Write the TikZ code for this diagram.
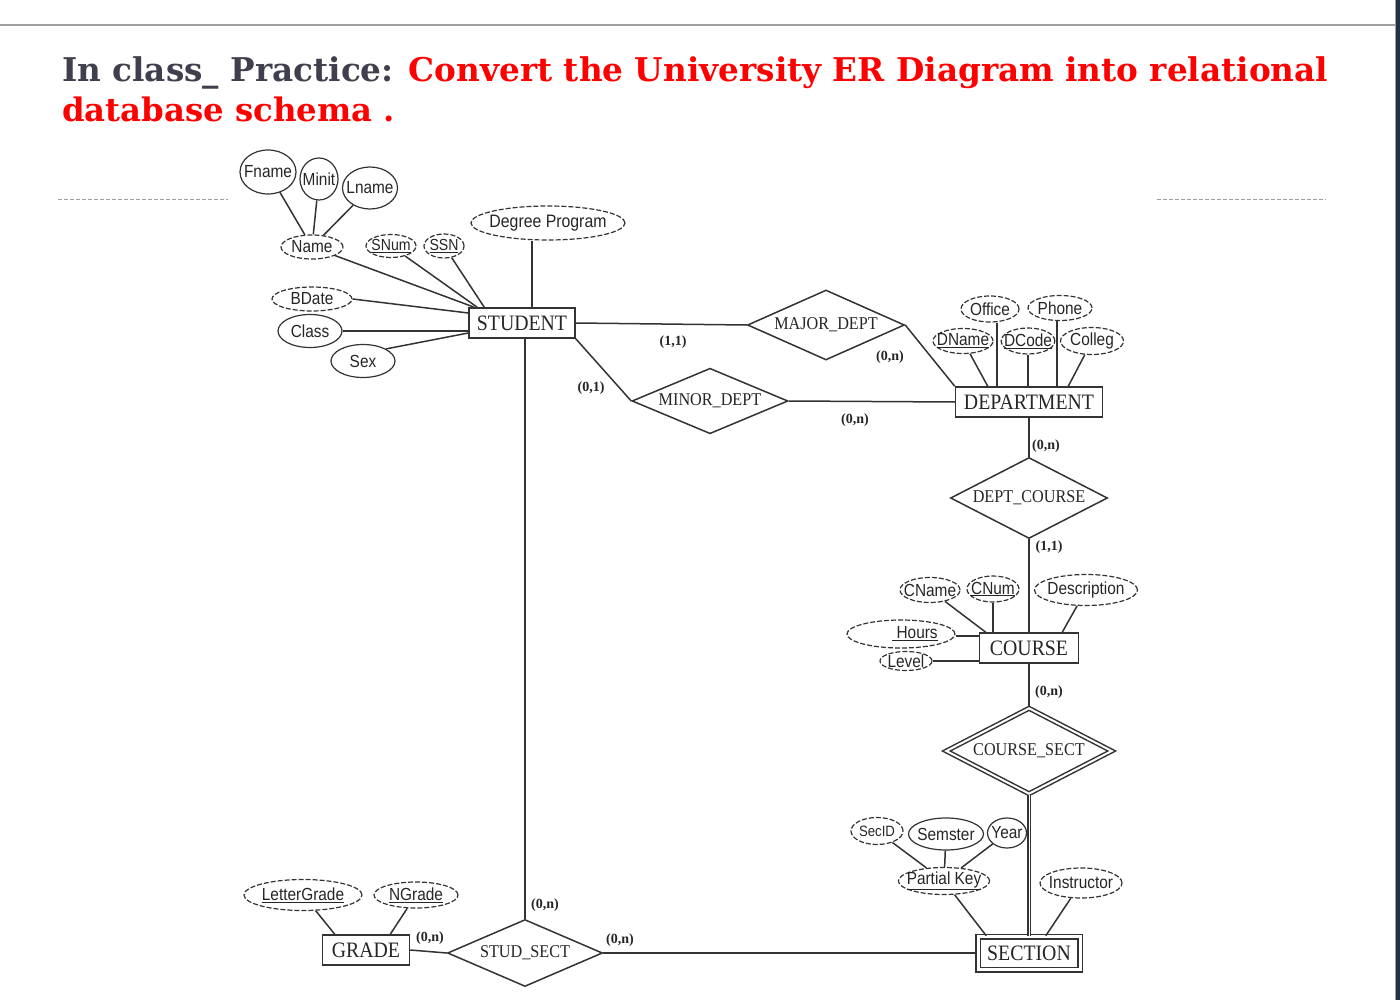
\documentclass[tikz,border=0pt]{standalone}
\usepackage{fontspec}
\setmainfont{Liberation Serif}
\setsansfont{Liberation Sans}
\newfontfamily\titlefont{DejaVu Serif}
\newfontfamily\attrfont{Liberation Sans}[FakeStretch=0.88]
\newfontfamily\entfont{Liberation Serif}[FakeStretch=0.9]
\usetikzlibrary{shapes.geometric}
\definecolor{linec}{HTML}{333333}
\definecolor{titlegrey}{HTML}{3F3F4D}
\definecolor{titlered}{HTML}{FF0000}
\definecolor{rulegrey}{HTML}{A0A0A0}
\definecolor{edgedark}{HTML}{1E3446}
\begin{document}
\begin{tikzpicture}[x=1pt,y=-1pt,
  ent/.style={draw=linec, line width=1.5pt, rectangle, inner sep=0pt, text=black!85, font=\entfont\fontsize{22}{24}\selectfont},
  rel/.style={draw=linec, line width=1.5pt, diamond, aspect=2, inner sep=0pt, text=black!85, font=\entfont\fontsize{18}{20}\selectfont},
  attr/.style={draw=linec, line width=1.2pt, ellipse, inner xsep=-5pt, inner ysep=-3pt, text=black!85, font=\attrfont\fontsize{17.5}{19}\selectfont},
  dattr/.style={attr, dash pattern=on 5pt off 2pt},
  card/.style={inner sep=0pt, text=black!85, font=\bfseries\fontsize{14}{16}\selectfont},
  conn/.style={draw=linec, line width=1.5pt}
]
\useasboundingbox (0,0) rectangle (1400,1000);
\fill[white] (0,0) rectangle (1400,1000);
% page frame
\draw[rulegrey, line width=2pt] (0,25) -- (1395,25);
\fill[edgedark] (1396,0) rectangle (1400,1000);
\draw[rulegrey, line width=1pt] (1395,0) -- (1395,1000);
\draw[rulegrey, line width=1pt, dash pattern=on 4pt off 2pt] (58,200) -- (228,200);
\draw[rulegrey, line width=1pt, dash pattern=on 4pt off 2pt] (1157,200) -- (1326,200);

% title
\node[anchor=base west, inner sep=0pt] (title1) at (62,82) {\resizebox{1266pt}{!}{\titlefont\bfseries\color{titlegrey}In class\_ Practice: \color{titlered}Convert the University ER Diagram into relational}};
\node[anchor=base west, inner sep=0pt, text=titlered] (title2) at (62,122) {\resizebox{333pt}{!}{\titlefont\bfseries database schema .}};

% entities
\node[ent, minimum width=106pt, minimum height=30pt] (student) at (522,323) {STUDENT};
\node[ent, minimum width=147pt, minimum height=30pt] (dept) at (1029,402) {DEPARTMENT};
\node[ent, minimum width=99pt, minimum height=30pt] (course) at (1029,648) {COURSE};
\node[ent, double=white, double distance=3pt, minimum width=102pt, minimum height=33pt] (section) at (1029,953) {SECTION};
\node[ent, minimum width=87pt, minimum height=30pt] (grade) at (366,950) {GRADE};

% relationships
\node[rel, minimum width=157pt, minimum height=70pt] (major) at (826,325) {MAJOR\_DEPT};
\node[rel, minimum width=156pt, minimum height=65pt] (minor) at (710,401) {MINOR\_DEPT};
\node[rel, minimum width=157pt, minimum height=81pt] (dc) at (1029,498) {DEPT\_COURSE};
\node[rel, double=white, double distance=2pt, minimum width=166pt, minimum height=86pt] (cs) at (1029,751) {COURSE\_SECT};
\node[rel, minimum width=155pt, minimum height=67pt] (ss) at (525,953) {STUD\_SECT};

% student attributes
\node[attr, minimum width=56pt, minimum height=44pt] (fname) at (268,172) {Fname};
\node[attr, minimum width=38pt, minimum height=42pt] (minit) at (319,179) {Minit};
\node[attr, minimum width=55pt, minimum height=42pt] (lname) at (370,188) {Lname};
\node[dattr, minimum width=62pt, minimum height=24pt] (name) at (312,247) {Name};
\node[dattr, minimum width=50pt, minimum height=23pt, font=\attrfont\fontsize{16}{18}\selectfont] (snum) at (391,246) {\underline{SNum}};
\node[dattr, minimum width=40pt, minimum height=24pt, font=\attrfont\fontsize{16}{18}\selectfont] (ssn) at (444,246) {\underline{SSN}};
\node[dattr, minimum width=154pt, minimum height=34pt, font=\attrfont\fontsize{18}{20}\selectfont] (degree) at (548,223) {Degree Program};
\node[dattr, minimum width=80pt, minimum height=24pt] (bdate) at (312,299) {BDate};
\node[attr, minimum width=64pt, minimum height=33pt] (class) at (310,331) {Class};
\node[attr, minimum width=64pt, minimum height=33pt] (sex) at (363,361) {Sex};

% department attributes
\node[dattr, minimum width=58pt, minimum height=26pt] (office) at (990,309) {Office};
\node[dattr, minimum width=64pt, minimum height=25pt] (phone) at (1060,308) {Phone};
\node[dattr, minimum width=60pt, minimum height=25pt] (dname) at (963,341) {\underline{DName}};
\node[dattr, minimum width=52pt, minimum height=26pt] (dcode) at (1028,341) {\underline{DCode}};
\node[dattr, minimum width=63pt, minimum height=27pt] (colleg) at (1092,341) {Colleg};

% course attributes
\node[dattr, minimum width=60pt, minimum height=25pt] (cname) at (930,590) {CName};
\node[dattr, minimum width=52pt, minimum height=26pt] (cnum) at (993,589) {\underline{CNum}};
\node[dattr, minimum width=103pt, minimum height=31pt] (desc) at (1086,590) {Description};
\node[dattr, minimum width=108pt, minimum height=28pt] (hours) at (901,634) {\hspace*{28pt}\underline{\ Hours}};
\node[dattr, minimum width=52pt, minimum height=19pt] (level) at (906,661) {Level};

% section attributes
\node[dattr, minimum width=52pt, minimum height=27pt, font=\attrfont\fontsize{15}{17}\selectfont] (secid) at (877,831) {SecID};
\node[attr, minimum width=75pt, minimum height=32pt] (semster) at (946,834) {Semster};
\node[attr, minimum width=39pt, minimum height=30pt] (year) at (1007,833) {Year};
\node[dattr, minimum width=83pt, minimum height=27pt] (pk) at (944,881) {\underline{Partial Key}};
\node[dattr, minimum width=82pt, minimum height=30pt] (instr) at (1081,883) {Instructor};

% grade attributes
\node[dattr, minimum width=118pt, minimum height=31pt] (lg) at (303,895) {\underline{LetterGrade}};
\node[dattr, minimum width=84pt, minimum height=26pt] (ng) at (416,895) {\underline{NGrade}};

% connectors: student attributes
\draw[conn] (fname) -- (name);
\draw[conn] (minit) -- (name);
\draw[conn] (lname) -- (name);
\draw[conn] (name) -- ([xshift=6pt]student.north west);
\draw[conn] (snum) -- ([xshift=9pt]student.north west);
\draw[conn] (ssn) -- ([xshift=16pt]student.north west);
\draw[conn] ([xshift=10pt]student.north) -- ([xshift=10pt]student.north |- degree.south);
\draw[conn] (bdate.east) -- ([yshift=10pt]student.west);
\draw[conn] (class.east) -- (class.east -| student.west);
\draw[conn] (sex.north east) -- ([yshift=-10pt]student.west);

% connectors: relationships
\draw[conn] (student.east) -- (major.west);
\draw[conn] (major.east) -- (dept.north west);
\draw[conn] (student.south east) -- (minor.west);
\draw[conn] (minor.east) -- (dept.west);
\draw[conn] (dept.south) -- (dc.north);
\draw[conn] (dc.south) -- (course.north);
\draw[conn] (course.south) -- (cs.north);
\draw[draw=linec, line width=1.6pt, double=white, double distance=1pt] (cs.south) -- (section.north);
\draw[conn] (ss.north) -- (ss.north |- student.south);
\draw[conn] (ss.east) -- (section.west);
\draw[conn] (grade.east) -- (ss.west);

% connectors: department attributes
\draw[conn] ([xshift=7pt]office.south) -- ([xshift=7pt]office.south |- dept.north);
\draw[conn] ([xshift=-3pt]phone.south) -- ([xshift=-3pt]phone.south |- dept.north);
\draw[conn] (dname) -- ([xshift=33pt]dept.north west);
\draw[conn] (dcode.south) -- (dcode.south |- dept.north);
\draw[conn] (colleg) -- ([xshift=-35pt]dept.north east);

% connectors: course attributes
\draw[conn] (cname) -- ([xshift=7pt]course.north west);
\draw[conn] (cnum.south) -- (cnum.south |- course.north);
\draw[conn] (desc) -- ([xshift=-17pt]course.north east);
\draw[conn] ([yshift=-2pt]hours.east) -- ([yshift=-2pt]hours.east -| course.west);
\draw[conn] (level.east) -- (level.east -| course.west);

% connectors: section attributes
\draw[conn] (secid) -- (pk);
\draw[conn] (semster) -- (pk);
\draw[conn] (year) -- (pk);
\draw[conn] (pk) -- ([xshift=9pt]section.north west);
\draw[conn] (instr) -- ([xshift=-35pt]section.north east);

% connectors: grade attributes
\draw[conn] (lg) -- ([xshift=13pt]grade.north west);
\draw[conn] (ng) -- ([xshift=-20pt]grade.north east);

% cardinalities
\node[card] (c1) at (673,342) {(1,1)};
\node[card] (c2) at (890,357) {(0,n)};
\node[card] (c3) at (591,388) {(0,1)};
\node[card] (c4) at (855,420) {(0,n)};
\node[card] (c5) at (1046,446) {(0,n)};
\node[card] (c6) at (1049,547) {(1,1)};
\node[card] (c7) at (1049,692) {(0,n)};
\node[card] (c8) at (545,905) {(0,n)};
\node[card] (c9) at (430,938) {(0,n)};
\node[card] (c10) at (620,940) {(0,n)};
\end{tikzpicture}
\end{document}
